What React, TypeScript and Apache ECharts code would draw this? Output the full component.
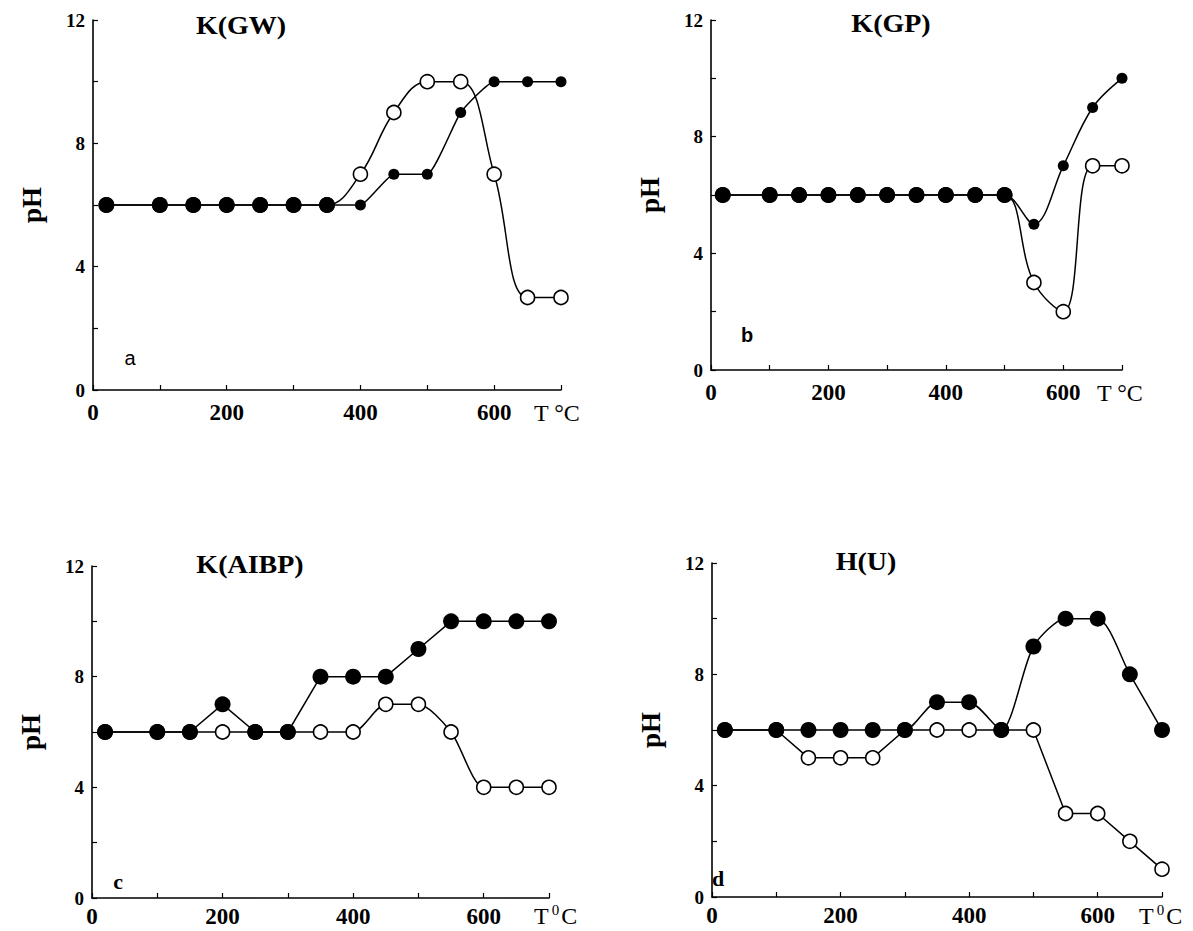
import React, { useEffect, useRef } from "react";
import * as echarts from "echarts";

// Temperatures (°C) at which pH was measured
const TEMPS = [20, 100, 150, 200, 250, 300, 350, 400, 450, 500, 550, 600, 650, 700];

// Panel a: K(GW)
const GW_FILLED = [6, 6, 6, 6, 6, 6, 6, 6, 7, 7, 9, 10, 10, 10];
const GW_OPEN = [6, 6, 6, 6, 6, 6, 6, 7, 9, 10, 10, 7, 3, 3];
// Panel b: K(GP)
const GP_FILLED = [6, 6, 6, 6, 6, 6, 6, 6, 6, 6, 5, 7, 9, 10];
const GP_OPEN = [6, 6, 6, 6, 6, 6, 6, 6, 6, 6, 3, 2, 7, 7];
// Panel c: K(AIBP)
const AIBP_FILLED = [6, 6, 6, 7, 6, 6, 8, 8, 8, 9, 10, 10, 10, 10];
const AIBP_OPEN = [6, 6, 6, 6, 6, 6, 6, 6, 7, 7, 6, 4, 4, 4];
// Panel d: H(U)
const HU_FILLED = [6, 6, 6, 6, 6, 6, 7, 7, 6, 9, 10, 10, 8, 6];
const HU_OPEN = [6, 6, 5, 5, 5, 6, 6, 6, 6, 6, 3, 3, 2, 1];

const TITLES = ["K(GW)", "K(GP)", "K(AIBP)", "H(U)"];
const LETTERS = ["a", "b", "c", "d"];
const X_LABELS = [0, 200, 400, 600];
const Y_LABELS = [0, 4, 8, 12];

const SERIF = '"Liberation Serif", "Times New Roman", serif';
const SANS = '"Liberation Sans", Arial, sans-serif';

const PANELS = [
  {
    filled: GW_FILLED, open: GW_OPEN, bigAlways: false, smoothF: 0.15, smoothO: 0.4,
    grid: { left: 93, top: 20, width: 468, height: 370 },
    labelMargin: 11,
    title: { x: 241, y: 26 },
    letter: { x: 130, y: 358, font: `20px ${SANS}` },
    unit: { x: 534, y: 413, sup: false },
  },
  {
    filled: GP_FILLED, open: GP_OPEN, bigAlways: false, smoothF: 0.35, smoothO: 0.4,
    grid: { left: 711, top: 20, width: 411, height: 350 },
    labelMargin: 11,
    title: { x: 891, y: 24 },
    letter: { x: 747, y: 335, font: `bold 20px ${SANS}` },
    unit: { x: 1097, y: 393, sup: false },
  },
  {
    filled: AIBP_FILLED, open: AIBP_OPEN, bigAlways: true, smoothF: 0, smoothO: 0.25,
    grid: { left: 92, top: 566, width: 457, height: 332 },
    labelMargin: 7,
    title: { x: 250, y: 565 },
    letter: { x: 118, y: 881, font: `bold 22px ${SERIF}` },
    unit: { x: 534, y: 916, sup: true },
  },
  {
    filled: HU_FILLED, open: HU_OPEN, bigAlways: true, smoothF: 0.25, smoothO: 0,
    grid: { left: 712, top: 563, width: 450, height: 334 },
    labelMargin: 7,
    title: { x: 866, y: 562 },
    letter: { x: 718, y: 878, font: `bold 22px ${SERIF}` },
    unit: { x: 1139, y: 916, sup: true },
  },
];

export default function App() {
  const ref = useRef<HTMLDivElement>(null);

  useEffect(() => {
    if (!ref.current) return;
    const chart = echarts.init(ref.current, null, { renderer: "svg" });

    const grids: any[] = [];
    const xAxes: any[] = [];
    const yAxes: any[] = [];
    const series: any[] = [];
    const graphics: any[] = [];

    PANELS.forEach((p, i) => {
      grids.push({ ...p.grid, containLabel: false, outerBoundsMode: "none" });
      xAxes.push({
        gridIndex: i,
        type: "value",
        min: 0,
        max: 700,
        interval: 100,
        axisLine: { show: true, onZero: false, lineStyle: { color: "#000", width: 1.6 } },
        axisTick: { show: true, inside: true, length: 5, lineStyle: { color: "#000", width: 1.2 } },
        axisLabel: {
          formatter: (v: number) => (X_LABELS.includes(v) ? String(v) : ""),
          fontFamily: SERIF,
          fontWeight: "bold",
          fontSize: 23,
          lineHeight: 23,
          color: "#000",
          margin: p.labelMargin,
        },
        splitLine: { show: false },
      });
      yAxes.push({
        gridIndex: i,
        type: "value",
        min: 0,
        max: 12,
        interval: 2,
        name: "pH",
        nameLocation: "middle",
        nameRotate: 90,
        nameGap: 48,
        nameTextStyle: { fontFamily: SERIF, fontWeight: "bold", fontSize: 27, color: "#000" },
        axisLine: { show: true, onZero: false, lineStyle: { color: "#000", width: 1.6 } },
        axisTick: { show: true, inside: true, length: 5, lineStyle: { color: "#000", width: 1.2 } },
        axisLabel: {
          formatter: (v: number) => (Y_LABELS.includes(v) ? String(v) : ""),
          fontFamily: SERIF,
          fontWeight: "bold",
          fontSize: 19,
          color: "#000",
          margin: 8,
        },
        splitLine: { show: false },
      });

      const openData = TEMPS.map((t, k) => [t, p.open[k]]);
      const filledData = TEMPS.map((t, k) => [t, p.filled[k]]);

      series.push({
        type: "line",
        xAxisIndex: i,
        yAxisIndex: i,
        data: openData,
        smooth: p.smoothO,
        symbol: "circle",
        symbolSize: 14,
        showAllSymbol: true,
        itemStyle: { color: "#fff", borderColor: "#000", borderWidth: 1.6 },
        lineStyle: { color: "#000", width: 1.5 },
        emphasis: { disabled: true },
        z: 2,
      });
      series.push({
        type: "line",
        xAxisIndex: i,
        yAxisIndex: i,
        data: filledData,
        smooth: p.smoothF,
        symbol: "circle",
        symbolSize: (_v: any, params: any) => {
          const k = params.dataIndex;
          return p.bigAlways || p.open[k] === p.filled[k] ? 16 : 11;
        },
        showAllSymbol: true,
        itemStyle: { color: "#000", borderColor: "#000", borderWidth: 0 },
        lineStyle: { color: "#000", width: 1.5 },
        emphasis: { disabled: true },
        z: 3,
      });

      graphics.push({
        type: "text",
        x: p.title.x,
        y: p.title.y,
        scaleX: 1.12,
        style: {
          text: TITLES[i],
          font: `bold 25px ${SERIF}`,
          fill: "#000",
          align: "center",
          verticalAlign: "middle",
          textAlign: "center",
          textVerticalAlign: "middle",
        },
      });
      graphics.push({
        type: "text",
        x: p.letter.x,
        y: p.letter.y,
        style: {
          text: LETTERS[i],
          font: p.letter.font,
          fill: "#000",
          align: "center",
          verticalAlign: "middle",
          textAlign: "center",
          textVerticalAlign: "middle",
        },
      });
      graphics.push({
        type: "text",
        x: p.unit.x,
        y: p.unit.y,
        style: p.unit.sup
          ? {
              text: "T{s|0}C",
              fill: "#000",
              font: `24px ${SERIF}`,
              align: "left",
              verticalAlign: "middle",
              textAlign: "left",
              textVerticalAlign: "middle",
              rich: {
                s: { fontSize: 15, fontFamily: SERIF, padding: [0, 2, 12, 3], fill: "#000" },
              },
            }
          : {
              text: "T °C",
              fill: "#000",
              font: `24px ${SERIF}`,
              align: "left",
              verticalAlign: "middle",
              textAlign: "left",
              textVerticalAlign: "middle",
            },
      });
    });

    chart.setOption({
      animation: false,
      backgroundColor: "#fff",
      grid: grids,
      xAxis: xAxes,
      yAxis: yAxes,
      series,
      graphic: graphics,
    });

    return () => chart.dispose();
  }, []);

  return (
    <div
      ref={ref}
      style={{ position: "absolute", left: 0, top: 0, width: 1193, height: 931, background: "#fff" }}
    />
  );
}
